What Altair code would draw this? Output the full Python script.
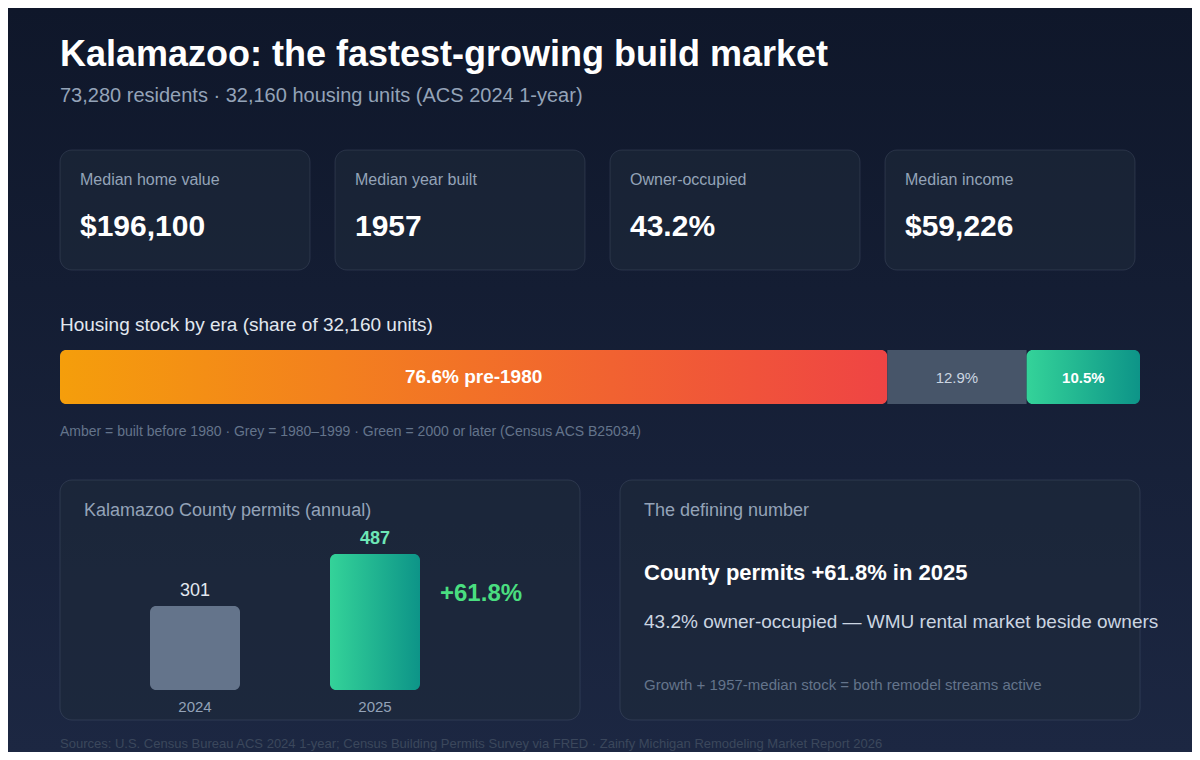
import altair as alt
import pandas as pd

# ---------------- data ----------------
city = "Kalamazoo"
residents = 73280
housing_units = 32160
kpi_labels = ["Median home value", "Median year built", "Owner-occupied", "Median income"]
kpi_values = ["$196,100", "1957", "43.2%", "$59,226"]
era_names = ["pre-1980", "1980–1999", "2000 or later"]
era_shares = [76.6, 12.9, 10.5]
permit_years = ["2024", "2025"]
permit_counts = [301, 487]

growth = (permit_counts[1] - permit_counts[0]) / permit_counts[0] * 100
growth_text = f"+{growth:.1f}%"
title_text = f"{city}: the fastest-growing build market"
subtitle_text = f"{residents:,} residents · {housing_units:,} housing units (ACS 2024 1-year)"
stock_title = f"Housing stock by era (share of {housing_units:,} units)"
seg_labels = [f"{era_shares[0]}% pre-1980", f"{era_shares[1]}%", f"{era_shares[2]}%"]
note_text = "Amber = built before 1980 · Grey = 1980–1999 · Green = 2000 or later (Census ACS B25034)"
permit_title = f"{city} County permits (annual)"
def_label = "The defining number"
def_headline = f"County permits {growth_text} in {permit_years[1]}"
def_line = f"{kpi_values[2]} owner-occupied — WMU rental market beside owners"
def_foot = f"Growth + {kpi_values[1]}-median stock = both remodel streams active"
source_text = ("Sources: U.S. Census Bureau ACS 2024 1-year; Census Building Permits Survey via FRED"
               " · Zainfy Michigan Remodeling Market Report 2026")

# ---------------- layout & style ----------------
OX, OY = 8, 8          # page margin
W, H = 1184, 744       # drawing size
FONT = "Liberation Sans"

XP = alt.Scale(domain=[OX, OX + W], nice=False, zero=False)
YP = alt.Scale(domain=[OY, OY + H], reverse=True, nice=False, zero=False)

KPI_X0, KPI_STEP, KPI_W, KPI_PAD = 60, 275, 250, 20
KPI_Y0, KPI_Y1, KPI_LABEL_Y, KPI_VALUE_Y = 150, 270, 185, 236

BAR_X0, BAR_X1, BAR_Y0, BAR_Y1, BAR_TEXT_Y = 60, 1140, 350, 404, 383

PERMIT_STEP, PERMIT_BAR_W, PERMIT_X0 = 180, 90, 150
PERMIT_BASE_Y, PERMIT_TOP_Y = 690, 554


def grad(c0, c1, horizontal=True):
    return {"gradient": "linear", "x1": 0, "y1": 0,
            "x2": 1 if horizontal else 0, "y2": 0 if horizontal else 1,
            "stops": [{"offset": 0, "color": c0}, {"offset": 1, "color": c1}]}


AMBER = grad("#f59e0b", "#ef4444")
GREEN = grad("#34d399", "#0d9488")


def txt(s, x, y, size, color, weight="normal", align="left"):
    return alt.Chart(pd.DataFrame({"x": [x], "y": [y], "t": [s]})).mark_text(
        font=FONT, fontSize=size, color=color, fontWeight=weight, align=align,
        baseline="alphabetic"
    ).encode(x=alt.X("x:Q", scale=XP, axis=None),
             y=alt.Y("y:Q", scale=YP, axis=None), text="t:N")


def box(x0, y0, x1, y1, **style):
    return alt.Chart(pd.DataFrame({"x0": [x0], "y0": [y0], "x1": [x1], "y1": [y1]})).mark_rect(
        **style
    ).encode(x=alt.X("x0:Q", scale=XP, axis=None), x2="x1:Q",
             y=alt.Y("y0:Q", scale=YP, axis=None), y2="y1:Q")


CARD = dict(cornerRadius=12, fill="#1e293b", fillOpacity=0.6,
            stroke="#94a3b8", strokeOpacity=0.16, strokeWidth=1)

layers = []

# background
layers.append(box(OX, OY, OX + W, OY + H, fill=grad("#0f172a", "#1c2742", horizontal=False)))

# header
layers.append(txt(title_text, 60, 66, 36, "#ffffff", "bold"))
layers.append(txt(subtitle_text, 60, 102, 20, "#94a3b8"))

# KPI cards
kpi_df = pd.DataFrame({"label": kpi_labels, "value": kpi_values, "slot": list(range(len(kpi_labels)))})
kpi_base = alt.Chart(kpi_df).transform_calculate(
    x0=f"{KPI_X0} + datum.slot * {KPI_STEP}",
    x1=f"{KPI_X0} + datum.slot * {KPI_STEP} + {KPI_W}",
    tx=f"{KPI_X0} + datum.slot * {KPI_STEP} + {KPI_PAD}",
    y0=str(KPI_Y0), y1=str(KPI_Y1), ly=str(KPI_LABEL_Y), vy=str(KPI_VALUE_Y),
)
layers.append(kpi_base.mark_rect(**CARD).encode(
    x=alt.X("x0:Q", scale=XP, axis=None), x2="x1:Q",
    y=alt.Y("y0:Q", scale=YP, axis=None), y2="y1:Q"))
layers.append(kpi_base.mark_text(font=FONT, fontSize=16, color="#94a3b8", align="left",
                                 baseline="alphabetic").encode(
    x=alt.X("tx:Q", scale=XP, axis=None), y=alt.Y("ly:Q", scale=YP, axis=None), text="label:N"))
layers.append(kpi_base.mark_text(font=FONT, fontSize=30, fontWeight="bold", color="#ffffff",
                                 align="left", baseline="alphabetic").encode(
    x=alt.X("tx:Q", scale=XP, axis=None), y=alt.Y("vy:Q", scale=YP, axis=None), text="value:N"))

# housing stock bar
layers.append(txt(stock_title, 60, 331, 19, "#e2e8f0"))
era_df = pd.DataFrame({"era": era_names, "share": era_shares,
                       "order": list(range(len(era_names))), "label": seg_labels})
px_per_share = (BAR_X1 - BAR_X0) / sum(era_shares)
XS = alt.Scale(domain=[(OX - BAR_X0) / px_per_share, (OX + W - BAR_X0) / px_per_share],
               nice=False, zero=False)
era_base = alt.Chart(era_df).transform_window(
    cum="sum(share)", sort=[alt.SortField("order")], frame=[None, 0]
).transform_calculate(
    start="datum.cum - datum.share", mid="datum.cum - datum.share / 2",
    y0=str(BAR_Y0), y1=str(BAR_Y1), ty=str(BAR_TEXT_Y),
)
seg_fill = [AMBER, "#475569", GREEN]
seg_radius = [6, 0, 6]
seg_text = [dict(fontSize=19, fontWeight="bold", color="#ffffff"),
            dict(fontSize=15, fontWeight="normal", color="#cbd5e1"),
            dict(fontSize=15, fontWeight="bold", color="#ffffff")]
for i in range(len(era_names)):
    seg = era_base.transform_filter(f"datum.order == {i}")
    layers.append(seg.mark_rect(fill=seg_fill[i], cornerRadius=seg_radius[i]).encode(
        x=alt.X("start:Q", scale=XS, axis=None), x2="cum:Q",
        y=alt.Y("y0:Q", scale=YP, axis=None), y2="y1:Q"))
    layers.append(seg.mark_text(font=FONT, align="center", baseline="alphabetic",
                                **seg_text[i]).encode(
        x=alt.X("mid:Q", scale=XS, axis=None),
        y=alt.Y("ty:Q", scale=YP, axis=None), text="label:N"))
layers.append(txt(note_text, 60, 436, 14, "#64748b"))

# bottom cards
layers.append(box(60, 480, 580, 720, **CARD))
layers.append(box(620, 480, 1140, 720, **CARD))

# permits card
layers.append(txt(permit_title, 84, 516, 18, "#94a3b8"))
n = len(permit_years)
p_inner = 1 - PERMIT_BAR_W / PERMIT_STEP
band_start = PERMIT_X0 - OX
XB = alt.Scale(type="band", domain=permit_years, paddingInner=p_inner, paddingOuter=0,
               range=[band_start, band_start + PERMIT_STEP * (n - p_inner)], round=False)
px_per_permit = (PERMIT_BASE_Y - PERMIT_TOP_Y) / max(permit_counts)
YB = alt.Scale(domain=[-(OY + H - PERMIT_BASE_Y) / px_per_permit,
                       (PERMIT_BASE_Y - OY) / px_per_permit], nice=False, zero=False)
permit_df = pd.DataFrame({"year": permit_years, "permits": permit_counts})
bar_fill = ["#64748b", GREEN]
val_style = [dict(fontWeight="normal", color="#e2e8f0"), dict(fontWeight="bold", color="#6ee7b7")]
for i, yr in enumerate(permit_years):
    pb = alt.Chart(permit_df).transform_filter(f"datum.year == '{yr}'").transform_calculate(z="0")
    layers.append(pb.mark_bar(fill=bar_fill[i], cornerRadius=6).encode(
        x=alt.X("year:N", scale=XB, axis=None),
        y=alt.Y("permits:Q", scale=YB, axis=None), y2="z:Q"))
    layers.append(pb.mark_text(font=FONT, fontSize=18, align="center", baseline="alphabetic",
                               dy=-10, **val_style[i]).encode(
        x=alt.X("year:N", scale=XB, axis=None),
        y=alt.Y("permits:Q", scale=YB, axis=None), text="permits:Q"))
    layers.append(pb.mark_text(font=FONT, fontSize=15, align="center", baseline="alphabetic",
                               dy=22, color="#94a3b8").encode(
        x=alt.X("year:N", scale=XB, axis=None),
        y=alt.Y("z:Q", scale=YB, axis=None), text="year:N"))
layers.append(txt(growth_text, 440, 601, 24, "#4ade80", "bold"))

# defining-number card
layers.append(txt(def_label, 644, 516, 18, "#94a3b8"))
layers.append(txt(def_headline, 644, 580, 22, "#ffffff", "bold"))
layers.append(txt(def_line, 644, 628, 19, "#cbd5e1"))
layers.append(txt(def_foot, 644, 690, 15, "#64748b"))

# footer
layers.append(txt(source_text, 60, 748, 13, "#3b475c"))

chart = alt.layer(*layers).resolve_scale(x="independent", y="independent").properties(
    width=W, height=H, padding=0, background="#111a2e",
    autosize=alt.AutoSizeParams(type="none"),
).configure_view(stroke=None)

chart.save("out.html", embed_options={"renderer": "svg", "actions": False})
